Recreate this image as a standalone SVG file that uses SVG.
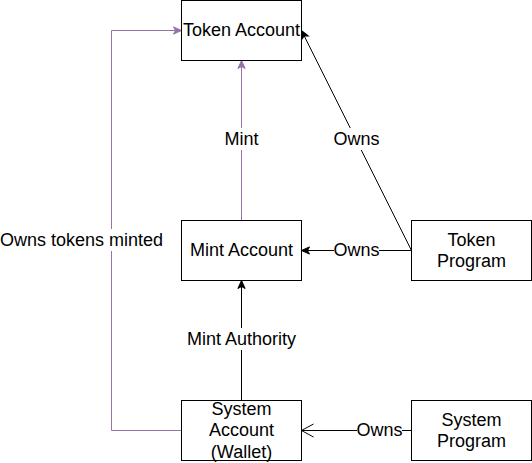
<svg xmlns="http://www.w3.org/2000/svg" width="532" height="463" viewBox="0 0 532 463">
<style>
.box{fill:#fff;stroke:#000;stroke-width:1}
.t{font-family:"Liberation Sans",Arial,sans-serif;font-size:18px;fill:#000;text-anchor:middle;dominant-baseline:central}
.lbl{fill:#fff;stroke:none}
.pl{fill:none;stroke:#9673a6;stroke-width:1}
.bl{fill:none;stroke:#000;stroke-width:1}
</style>
<defs>
<marker id="ap" markerUnits="userSpaceOnUse" markerWidth="12" markerHeight="10" viewBox="-9 -5 10 10" refX="0" refY="0" orient="auto">
<path d="M0,0 L-8,-3.6 L-6,0 L-8,3.6 Z" fill="#9673a6" stroke="#9673a6" stroke-width="1"/>
</marker>
<marker id="ab" markerUnits="userSpaceOnUse" markerWidth="12" markerHeight="10" viewBox="-9 -5 10 10" refX="0" refY="0" orient="auto">
<path d="M0,0 L-8,-3.6 L-6,0 L-8,3.6 Z" fill="#000" stroke="#000" stroke-width="1"/>
</marker>
<marker id="ao" markerUnits="userSpaceOnUse" markerWidth="16" markerHeight="16" viewBox="-14 -8 16 16" refX="0" refY="0" orient="auto">
<path d="M-12,-6.5 L0,0 L-12,6.5" fill="none" stroke="#000" stroke-width="1"/>
</marker>
</defs>
<g id="connectors">
<path class="pl" d="M181.5,430.5 H111.5 V30.5 H181.5" marker-end="url(#ap)"/>
<path class="pl" d="M241.5,220.5 V60.5" marker-end="url(#ap)"/>
<path class="bl" d="M411.5,250.5 L301.5,30.5" marker-end="url(#ab)"/>
<path class="bl" d="M411.5,250.5 H301.5" marker-end="url(#ab)"/>
<path class="bl" d="M241.5,400.5 V280.5" marker-end="url(#ab)"/>
<path class="bl" d="M411.5,430.5 H301.5" marker-end="url(#ao)"/>
<rect class="lbl" x="0" y="229" width="164" height="22"/>
<text class="t" x="81.5" y="240">Owns tokens minted</text>
<rect class="lbl" x="225" y="128" width="33" height="22"/>
<text class="t" x="241.5" y="139">Mint</text>
<rect class="lbl" x="334" y="128" width="45" height="22"/>
<text class="t" x="356.5" y="139">Owns</text>
<rect class="lbl" x="334" y="239" width="45" height="22"/>
<text class="t" x="356.5" y="250">Owns</text>
<rect class="lbl" x="187" y="328" width="109" height="22"/>
<text class="t" x="241.5" y="339">Mint Authority</text>
<rect class="lbl" x="357" y="419" width="45" height="22"/>
<text class="t" x="379.5" y="430">Owns</text>
</g>
<g id="token-account">
<rect class="box" x="181.5" y="0.5" width="120" height="60"/>
<text class="t" x="241.5" y="30">Token Account</text>
</g>
<g id="mint-account">
<rect class="box" x="181.5" y="220.5" width="120" height="60"/>
<text class="t" x="241.5" y="250">Mint Account</text>
</g>
<g id="token-program">
<rect class="box" x="411.5" y="220.5" width="120" height="60"/>
<text class="t" x="471.5" y="239.5">Token</text>
<text class="t" x="471.5" y="261">Program</text>
</g>
<g id="system-account">
<rect class="box" x="181.5" y="400.5" width="120" height="60"/>
<text class="t" x="241.5" y="408.5">System</text>
<text class="t" x="241.5" y="430">Account</text>
<text class="t" x="241.5" y="451.5">(Wallet)</text>
</g>
<g id="system-program">
<rect class="box" x="411.5" y="400.5" width="120" height="60"/>
<text class="t" x="471.5" y="419.5">System</text>
<text class="t" x="471.5" y="441">Program</text>
</g>
</svg>
